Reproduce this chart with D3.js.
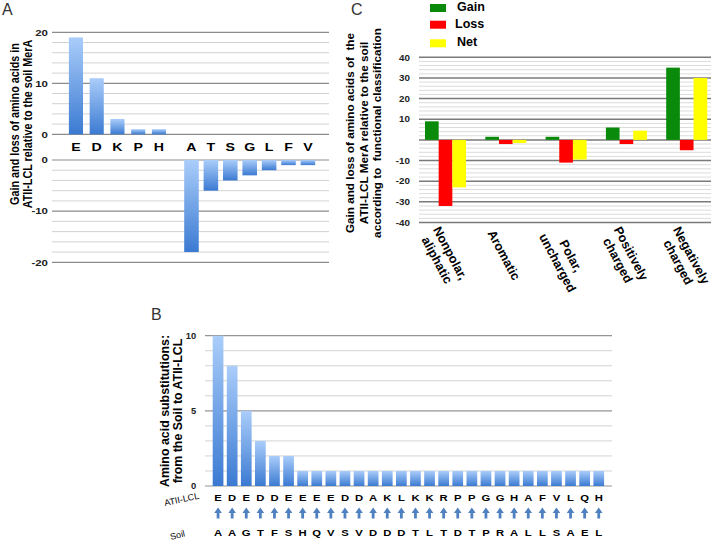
<!DOCTYPE html>
<html><head><meta charset="utf-8">
<script src="https://cdn.jsdelivr.net/npm/d3@7"></script>
<style>
body{margin:0;background:#fff}
svg{display:block}
text{font-family:"Liberation Sans",Arial,Helvetica,sans-serif}
</style>
</head><body>
<svg id="c" width="713" height="542"></svg>
<script>
// ---------- DATA ----------
// Panel A
const gainCats = ["E","D","K","P","H"];
const gainVals = [19,11,3,1,1];
const lossCats = ["A","T","S","G","L","F","V"];
const lossVals = [-18,-6,-4,-3,-2,-1,-1];
const aTicksTop = [20,10,0];
const aTicksBottom = [0,-10,-20];
// Panel C
const classLabels = [["Nonpolar,","aliphatic"],["Aromatic"],["Polar,","uncharged"],["Positively","charged"],["Negatively","charged"]];
const classGain = [9,1.5,1.5,6,35];
const classLoss = [-32,-2,-11,-2,-5];
const classNet  = [-23,-1.5,-9.5,4.5,30];
const cTicks = [40,30,20,10,-10,-20,-30,-40];
const seriesNames = ["Gain","Loss","Net"];
const seriesColors = ["#0a8a0a","#ff0000","#ffff00"];
// Panel B
const subsTo   = ["E","D","E","D","D","E","E","E","E","D","D","A","K","L","K","K","R","P","P","G","G","H","A","F","V","L","Q","H"];
const subsFrom = ["A","A","G","T","F","S","H","Q","V","S","V","D","D","D","T","L","T","D","T","P","R","A","L","L","S","A","E","L"];
const subsCount = [10,8,5,3,2,2,1,1,1,1,1,1,1,1,1,1,1,1,1,1,1,1,1,1,1,1,1,1];
const bTicks = [10,5,0];

// ---------- SETUP ----------
const svg = d3.select("#c");
const defs = svg.append("defs");
const grad = defs.append("linearGradient").attr("id","blueGrad")
  .attr("x1",0).attr("y1",0).attr("x2",0).attr("y2",1);
grad.append("stop").attr("offset","0%").attr("stop-color","#aacdfa");
grad.append("stop").attr("offset","100%").attr("stop-color","#3b7ad2");

function gridLines(g, scale, vals, x0, x1, isMajor, minorC, majorC, majorW) {
  g.selectAll(null).data(vals).enter().append("line")
    .attr("x1", x0).attr("x2", x1)
    .attr("y1", d => scale(d)).attr("y2", d => scale(d))
    .attr("stroke", d => isMajor(d) ? majorC : minorC)
    .attr("stroke-width", d => isMajor(d) ? majorW : 1);
}
function styleAxis(ax, size, sx) {
  ax.select(".domain").remove();
  ax.selectAll("text").attr("font-size", size).attr("font-weight","bold")
    .attr("fill","#222").attr("font-family","'Liberation Sans',Arial,sans-serif")
    .attr("transform", sx ? `scale(${sx},1)` : null);
}

// ---------- PANEL A ----------
const gA = svg.append("g");
gA.append("text").attr("x",2).attr("y",15).attr("font-size",16).attr("fill","#333").text("A");
const yTop = d3.scaleLinear().domain([0,20]).range([134.3,32.3]);
const yBot = d3.scaleLinear().domain([-20,0]).range([262.3,160]);
const xTop = d3.scaleBand().domain(gainCats).range([68.9,166]).paddingInner(0.32).paddingOuter(0);
const xBot = d3.scaleBand().domain(lossCats).range([184.2,315.2]).paddingInner(0.25).paddingOuter(0);

gridLines(gA, yTop, d3.range(0,21,2), 52, 329, d => d % 10 === 0, "#d3d3d3", "#8c8c8c", 1.2);
gridLines(gA, yBot, d3.range(-20,1,2), 52, 329, d => d % 10 === 0, "#d3d3d3", "#8c8c8c", 1.2);

gA.selectAll(".barT").data(gainVals).enter().append("rect")
  .attr("x",(d,i)=>xTop(gainCats[i])).attr("width",xTop.bandwidth())
  .attr("y",d=>yTop(d)).attr("height",d=>yTop(0)-yTop(d)).attr("fill","url(#blueGrad)");
gA.selectAll(".barB").data(lossVals).enter().append("rect")
  .attr("x",(d,i)=>xBot(lossCats[i])).attr("width",xBot.bandwidth())
  .attr("y",yBot(0)).attr("height",d=>yBot(d)-yBot(0)).attr("fill","url(#blueGrad)");

const axAT = gA.append("g").attr("transform","translate(52,0)")
  .call(d3.axisLeft(yTop).tickValues(aTicksTop).tickSize(0).tickPadding(3).tickFormat(d=>String(d)));
styleAxis(axAT, 8.5, 1.35);
const axAB = gA.append("g").attr("transform","translate(52,0)")
  .call(d3.axisLeft(yBot).tickValues(aTicksBottom).tickSize(0).tickPadding(3).tickFormat(d=>String(d)));
styleAxis(axAB, 8.5, 1.35);

gA.selectAll(".lblT").data(gainCats).enter().append("text")
  .attr("transform", d => `translate(${xTop(d)+xTop.bandwidth()/2},151) scale(1.35,1)`)
  .attr("text-anchor","middle").attr("font-size",10.5).attr("font-weight","bold").text(d=>d);
gA.selectAll(".lblB").data(lossCats).enter().append("text")
  .attr("transform", d => `translate(${xBot(d)+xBot.bandwidth()/2},151) scale(1.35,1)`)
  .attr("text-anchor","middle").attr("font-size",10.5).attr("font-weight","bold").text(d=>d);

const aTitle = ["Gain and loss of amino acids in","ATII-LCL relative to the soil MerA"];
aTitle.forEach((t,i)=>{
  gA.append("text").attr("transform",`translate(${15+i*12.5},124) rotate(-90) scale(1,1.12)`)
    .attr("text-anchor","middle").attr("dy","0.35em").attr("font-size",10.8).attr("font-weight","bold").text(t);
});

// ---------- PANEL C ----------
const gC = svg.append("g");
gC.append("text").attr("x",351).attr("y",15).attr("font-size",16).attr("fill","#333").text("C");
const yC = d3.scaleLinear().domain([-40,40]).range([222.5,57.3]);
const xC = d3.scaleBand().domain(d3.range(classLabels.length)).range([425,707.2]).paddingInner(0.32).paddingOuter(0);
const xSub = d3.scaleBand().domain(seriesNames).range([0,xC.bandwidth()]);

gridLines(gC, yC, d3.range(-40,41,2), 419, 711, d => d % 10 === 0, "#dcdcdc", "#7a7a7a", 1.5);

const seriesData = [classGain, classLoss, classNet];
seriesData.forEach((vals,s)=>{
  gC.selectAll(null).data(vals).enter().append("rect")
    .attr("x",(d,i)=>xC(i)+xSub(seriesNames[s])).attr("width",xSub.bandwidth())
    .attr("y",d=>yC(Math.max(0,d))).attr("height",d=>Math.abs(yC(d)-yC(0)))
    .attr("fill",seriesColors[s]);
});

const axC = gC.append("g").attr("transform","translate(419,0)")
  .call(d3.axisLeft(yC).tickValues(cTicks).tickSize(0).tickPadding(8).tickFormat(d=>String(d)));
styleAxis(axC, 8.5, 1.15);

// legend
seriesNames.forEach((n,i)=>{
  const ly = [4,20.7,39.3][i];
  gC.append("rect").attr("x",430).attr("y",ly).attr("width",16).attr("height",8).attr("fill",seriesColors[i]);
  gC.append("text").attr("x",[457,455,457][i]).attr("y",ly+7).attr("font-size",12.5).attr("font-weight","bold").text(n);
});

// category labels (rotated)
classLabels.forEach((lines,i)=>{
  const cx = xC(i) + xC.bandwidth()/2 - 2;
  const g = gC.append("g");
  const texts = lines.map((t,j)=> g.append("text").attr("text-anchor","middle")
    .attr("font-size",12.6).attr("font-weight","bold")
    .attr("y",(j-(lines.length-1)/2)*15).attr("dy","0.33em").text(t));
  const L = d3.max(texts, t => t.node().getComputedTextLength());
  g.attr("transform",`translate(${cx},${231 + L/2*Math.sin(62*Math.PI/180)}) rotate(62)`);
});

const cTitle = ["Gain and loss of amino acids of  the","ATII-LCL MerA relative to the soil","according to  functional classification"];
cTitle.forEach((t,i)=>{
  gC.append("text").attr("transform",`translate(${350+i*13.5},133) rotate(-90)`)
    .attr("text-anchor","middle").attr("dy","0.35em").attr("font-size",11.7).attr("font-weight","bold")
    .style("white-space","pre").text(t);
});

// ---------- PANEL B ----------
const gB = svg.append("g");
gB.append("text").attr("x",151).attr("y",320).attr("font-size",16).attr("fill","#333").text("B");
const yB = d3.scaleLinear().domain([0,10]).range([486,335.7]);
const xB = d3.scaleBand().domain(d3.range(subsCount.length)).range([212.7,604.1]).paddingInner(0.24).paddingOuter(0);

gridLines(gB, yB, d3.range(0,11,1), 205, 612, d => d % 5 === 0, "#d3d3d3", "#959595", 1.2);

gB.selectAll(".barS").data(subsCount).enter().append("rect")
  .attr("x",(d,i)=>xB(i)).attr("width",xB.bandwidth())
  .attr("y",d=>yB(d)).attr("height",d=>yB(0)-yB(d)).attr("fill","url(#blueGrad)");

const axB = gB.append("g").attr("transform","translate(205,0)")
  .call(d3.axisLeft(yB).tickValues(bTicks).tickSize(0).tickPadding(8).tickFormat(d=>String(d)));
styleAxis(axB, 8.5, 1.1);

const bc = i => xB(i) + xB.bandwidth()/2;
gB.selectAll(".to").data(subsTo).enter().append("text")
  .attr("transform",(d,i)=>`translate(${bc(i)},501) scale(1.15,1)`)
  .attr("text-anchor","middle").attr("font-size",9.8).attr("font-weight","bold").text(d=>d);
gB.selectAll(".from").data(subsFrom).enter().append("text")
  .attr("transform",(d,i)=>`translate(${bc(i)},536) scale(1.15,1)`)
  .attr("text-anchor","middle").attr("font-size",9.8).attr("font-weight","bold").text(d=>d);
gB.selectAll(".arrow").data(subsTo).enter().append("path")
  .attr("d",(d,i)=>{const c=bc(i);return `M${c-3.8},513 L${c},507.5 L${c+3.8},513 L${c+1.4},513 L${c+1.4},518.5 L${c-1.4},518.5 L${c-1.4},513 Z`;})
  .attr("fill","#4f80c0");

gB.append("text").attr("transform","translate(165,506) rotate(-12)").attr("font-size",9).text("ATII-LCL");
gB.append("text").attr("transform","translate(171,540) rotate(-14)").attr("font-size",9).text("Soil");

const bTitle = ["Amino acid substitutions:","from the Soil to ATII-LCL"];
bTitle.forEach((t,i)=>{
  gB.append("text").attr("transform",`translate(${165+i*12.5},411) rotate(-90)`)
    .attr("text-anchor","middle").attr("dy","0.35em").attr("font-size",12.4).attr("font-weight","bold").text(t);
});
</script>
</body></html>
